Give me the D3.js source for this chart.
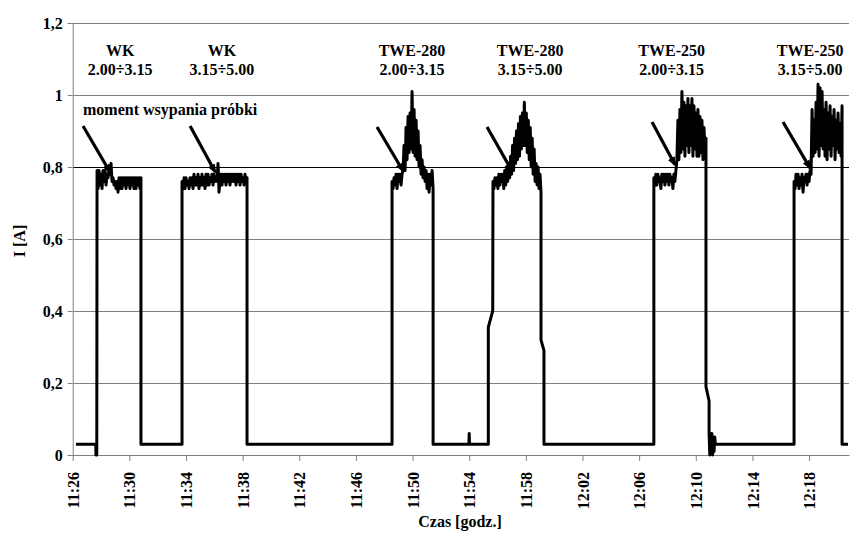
<!DOCTYPE html>
<html><head><meta charset="utf-8">
<script src="https://cdn.jsdelivr.net/npm/d3@7"></script>
<style>
body{margin:0;background:#fff;}
text{font-family:"Liberation Serif","Tinos","DejaVu Serif",serif;font-weight:bold;fill:#000;}
</style></head>
<body><svg id="c" width="851" height="533"></svg>
<script>
// ---- data (time in minutes after 11:26, current in A) ----
const tickMinutes = [0,4,8,12,16,20,24,28,32,36,40,44,48,52];
const tickLabels = ["11:26","11:30","11:34","11:38","11:42","11:46","11:50","11:54","11:58","12:02","12:06","12:10","12:14","12:18"];
const yTicks = [0,0.2,0.4,0.6,0.8,1,1.2];
const yTickLabels = ["0","0,2","0,4","0,6","0,8","1","1,2"];

const blockStarts = [1.72, 7.72, 22.55, 29.68, 41.04, 50.94];
const blockEnds   = [4.82, 12.31, 25.45, 33.07, 44.72, 54.33];

const block1 = [0.79,0.74,0.79,0.75,0.78,0.74,0.79,0.76,0.79,0.75,0.78,0.77,0.79,0.78,0.81,0.76,0.77,0.75,0.76,0.74,0.76,0.73,0.77,0.74,0.77,0.74,0.77,0.75,0.77,0.74,0.77,0.75,0.77,0.74,0.77,0.75,0.77,0.74,0.77,0.74,0.77,0.75,0.77,0.74,0.77];
const block2 = [0.76,0.74,0.77,0.74,0.77,0.75,0.76,0.74,0.77,0.75,0.77,0.74,0.78,0.75,0.77,0.75,0.78,0.74,0.77,0.75,0.78,0.75,0.77,0.74,0.78,0.75,0.78,0.75,0.77,0.76,0.78,0.75,0.78,0.76,
                0.77,0.76,0.81,0.73,0.77,
                0.78,0.75,0.78,0.76,0.78,0.75,0.78,0.76,0.78,0.75,0.78,0.76,0.78,0.76,0.78,0.75,0.78,0.76,0.78,0.75,0.78,0.76,0.77,0.75,0.78,0.76,0.77];
const block3 = [0.76,0.74,0.77,0.75,0.78,0.74,0.78,0.76,0.78,0.75,0.78,0.79,0.86,0.79,0.91,0.82,0.94,0.84,0.95,0.85,1.01,0.84,0.96,0.83,0.93,0.82,0.90,0.80,0.86,0.78,0.82,0.77,0.80,0.76,0.79,0.74,0.78,0.73,0.78,0.75,0.79,0.74];
const block4 = [0.76,0.74,0.77,0.75,0.77,0.74,0.78,0.75,0.78,0.76,0.78,0.74,0.79,0.75,0.80,0.76,0.81,0.77,0.83,0.78,0.86,0.79,0.88,0.81,0.90,0.82,0.92,0.83,0.94,0.85,0.95,0.86,0.98,0.86,0.95,0.84,0.93,0.82,0.91,0.80,0.88,0.78,0.85,0.76,0.81,0.75,0.80,0.74,0.78,0.73];
const block5 = [0.77,0.75,0.78,0.75,0.78,0.76,0.77,0.74,0.78,0.76,0.78,0.75,0.78,0.76,0.78,0.75,0.78,0.76,0.77,0.74,0.78,0.76,0.79,
                0.82,0.93,0.82,0.96,0.84,1.01,0.85,0.98,0.83,0.97,0.86,0.99,0.84,0.97,0.86,0.99,0.83,0.97,0.85,0.95,0.83,0.96,0.83,0.94,0.84,0.93,0.82,0.91,0.84,0.88];
const block6 = [0.76,0.74,0.78,0.75,0.78,0.74,0.77,0.75,0.78,0.73,0.77,0.76,0.78,0.75,0.78,0.76,0.79,0.78,
                0.96,0.83,0.93,0.84,0.98,0.85,1.03,0.83,1.02,0.86,1.01,0.85,0.96,0.83,0.98,0.82,0.95,0.85,0.97,0.83,0.94,0.86,0.96,0.82,0.93,0.85,0.95,0.84,0.92,0.83,0.97];
const blocks = [block1, block2, block3, block4, block5, block6];

// connecting pieces [minute, value] before / between / after the blocks
const link0 = [[0.23,0.03],[1.63,0.03],[1.64,0.0],[1.70,0.0]];
const link1 = [[4.82,0.03],[7.72,0.03]];
const link2 = [[12.31,0.03],[22.55,0.03]];
const link3 = [[25.45,0.03],[27.98,0.03],[28.0,0.06],[28.02,0.03],[29.35,0.03],[29.35,0.355],[29.66,0.40]];
const link4 = [[33.07,0.32],[33.28,0.29],[33.28,0.03],[41.04,0.03]];
const link5 = [[44.72,0.19],[44.94,0.15],[44.94,0.06],[44.99,0.0],[45.04,0.06],[45.09,0.01],[45.14,0.06],[45.19,0.0],[45.24,0.05],[45.29,0.01],[45.34,0.05],[45.38,0.03],[50.94,0.03]];
const link6 = [[54.33,0.03],[54.75,0.03]];
const links = [link0, link1, link2, link3, link4, link5, link6];

const labelTop = ["WK","WK","TWE-280","TWE-280","TWE-250","TWE-250"];
const labelBottom = ["2.00÷3.15","3.15÷5.00","2.00÷3.15","3.15÷5.00","2.00÷3.15","3.15÷5.00"];
const labelMinute = [3.35, 10.54, 23.96, 32.3, 42.3, 52.07];
const arrowFrom = [[0.73,0.914],[8.29,0.914],[21.49,0.911],[29.26,0.911],[40.91,0.925],[50.16,0.925]];
const arrowTo   = [[2.63,0.786],[10.06,0.786],[23.33,0.789],[31.02,0.789],[42.53,0.806],[52.07,0.797]];
const noteText = "moment wsypania próbki";

// ---- drawing ----
const FONT = '"Liberation Serif","Tinos","DejaVu Serif",serif';
const FS = 16;
const svg = d3.select("#c");
const x = d3.scaleLinear().domain([0, 54.82]).range([72.7, 849]);
const y = d3.scaleLinear().domain([0, 1.2]).range([455, 23]);
const grey = "#808080";

// gridlines
svg.append("g").selectAll("line").data(yTicks.filter(d => d > 0)).join("line")
  .attr("x1", x(0)).attr("x2", x(54.82))
  .attr("y1", d => y(d)).attr("y2", d => y(d))
  .attr("stroke", d => d === 0.8 ? "#000" : grey).attr("stroke-width", 1)
  .attr("shape-rendering", "crispEdges");

// y axis
const yAxis = d3.axisLeft(y).tickValues(yTicks).tickSize(5).tickFormat((d,i) => yTickLabels[i]);
const gy = svg.append("g").attr("transform", `translate(${x(0)},0)`).call(yAxis)
  .attr("font-family", FONT);
gy.select(".domain").attr("stroke", grey);
gy.selectAll(".tick line").attr("stroke", grey);
gy.selectAll("text").attr("font-size", FS).attr("x", -10)
  .style("font-family", FONT).style("font-weight", "bold");

// x axis
const xAxis = d3.axisBottom(x).tickValues(tickMinutes).tickSize(6).tickSizeOuter(0).tickFormat((d,i) => tickLabels[i]);
const gx = svg.append("g").attr("transform", `translate(0,${y(0)})`).call(xAxis)
  .attr("font-family", FONT);
gx.select(".domain").attr("stroke", grey);
gx.selectAll(".tick line").attr("stroke", grey);
gx.selectAll("text")
  .attr("font-size", FS)
  .style("font-family", FONT).style("font-weight", "bold")
  .attr("text-anchor", "end")
  .attr("transform", "rotate(-90)")
  .attr("x", -17).attr("y", 0).attr("dy", "0.35em");

// axis titles
svg.append("text").attr("x", 460).attr("y", 527).attr("text-anchor", "middle")
  .attr("font-size", FS).text("Czas [godz.]");
svg.append("text").attr("transform", "translate(25,241) rotate(-90)").attr("text-anchor", "middle")
  .attr("font-size", FS).text("I [A]");

// series
const pts = [];
for (let i = 0; i < blocks.length; i++) {
  links[i].forEach(p => pts.push(p));
  const b = blocks[i];
  const t = d3.scaleLinear().domain([0, b.length - 1]).range([blockStarts[i], blockEnds[i]]);
  b.forEach((v, j) => pts.push([t(j), v]));
}
links[blocks.length].forEach(p => pts.push(p));

const line = d3.line().x(d => x(d[0])).y(d => y(d[1]));
svg.append("path").attr("d", line(pts)).attr("fill", "none")
  .attr("stroke", "#000").attr("stroke-width", 3).attr("stroke-linejoin", "round");

// labels
const lg = svg.append("g").attr("font-size", FS).attr("text-anchor", "middle");
labelMinute.forEach((m, i) => {
  lg.append("text").attr("x", x(m)).attr("y", y(1.108)).text(labelTop[i]);
  lg.append("text").attr("x", x(m)).attr("y", y(1.056)).text(labelBottom[i]);
});
svg.append("text").attr("x", x(0.73)).attr("y", y(0.944)).attr("font-size", FS).text(noteText);

// arrows
svg.append("defs").append("marker").attr("id", "ah").attr("viewBox", "0 -5 10 10")
  .attr("refX", 8).attr("refY", 0).attr("markerWidth", 3).attr("markerHeight", 3)
  .attr("markerUnits", "strokeWidth").attr("orient", "auto")
  .append("path").attr("d", "M0,-4L10,0L0,4Z").attr("fill", "#000");
arrowFrom.forEach((f, i) => {
  svg.append("line").attr("x1", x(f[0])).attr("y1", y(f[1]))
    .attr("x2", x(arrowTo[i][0])).attr("y2", y(arrowTo[i][1]))
    .attr("stroke", "#000").attr("stroke-width", 3.2).attr("marker-end", "url(#ah)");
});
</script></body></html>
